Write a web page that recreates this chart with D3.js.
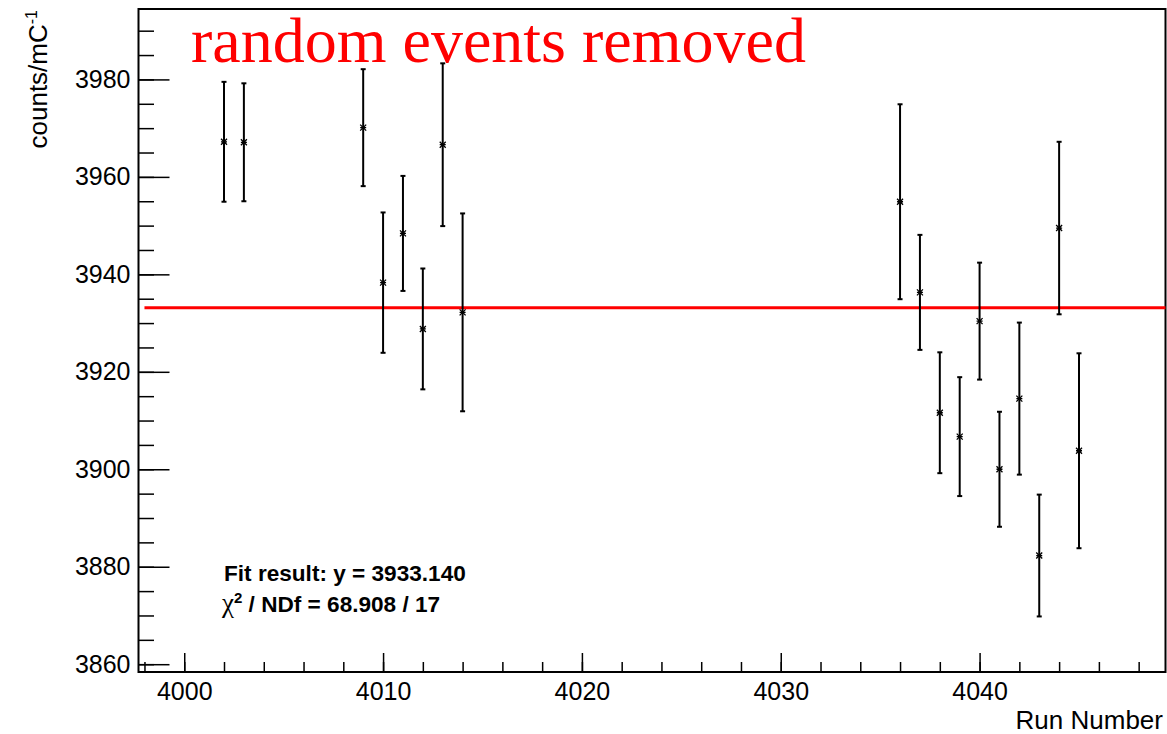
<!DOCTYPE html>
<html>
<head>
<meta charset="utf-8">
<script src="https://cdn.jsdelivr.net/npm/d3@7"></script>
<style>
    body { margin: 0; background: #fff; }
    svg { display: block; }
    .tick text { font-family: "Liberation Sans", Arial, sans-serif; font-size: 25px; fill: #000; }
</style>
</head>
<body>
<div id="chart"></div>
<script>
const width = 1167;
const height = 734;

const runs = [4002, 4003, 4009, 4010, 4011, 4012, 4013, 4014, 4036, 4037, 4038, 4039, 4040, 4041, 4042, 4043, 4044, 4045];
const counts = [3967.2, 3967.1, 3970.1, 3938.3, 3948.4, 3928.8, 3966.6, 3932.2, 3954.9, 3936.3, 3911.6, 3906.7, 3930.4, 3900.0, 3914.5, 3882.3, 3949.5, 3903.8];
const errors = [12.3, 12.1, 12.0, 14.4, 11.8, 12.4, 16.7, 20.3, 20.0, 11.8, 12.4, 12.2, 12.0, 11.8, 15.6, 12.5, 17.7, 20.0];

const xMajorTicks = [4000, 4010, 4020, 4030, 4040];
const xMinorTicks = d3.range(3998, 4050, 2);
const yMajorTicks = [3860, 3880, 3900, 3920, 3940, 3960, 3980];
const yMinorTicks = d3.range(3860, 3995, 5);

const fitValue = 3933.140;
const fitStart = 3998;
const chi2 = "68.908";
const ndf = 17;

const frame = { left: 138.5, right: 1165.5, top: 9, bottom: 672 };

const x = d3.scaleLinear()
    .domain([3997.7, 4049.35])
    .range([frame.left, frame.right]);

const y = d3.scaleLinear()
    .domain([3858.4, 3994.45])
    .range([frame.bottom, frame.top]);

const points = runs.map((run, i) => ({ run, value: counts[i], err: errors[i] }));

const svg = d3.select("#chart")
    .append("svg")
    .attr("width", width)
    .attr("height", height);

// axes, ticks pointing into the frame
svg.append("g")
    .attr("transform", `translate(0,${frame.bottom})`)
    .call(d3.axisBottom(x).tickValues(xMinorTicks).tickSize(-10).tickFormat(""))
    .call(g => g.select(".domain").remove());

svg.append("g")
    .attr("transform", `translate(0,${frame.bottom})`)
    .call(d3.axisBottom(x).tickValues(xMajorTicks).tickSize(-19).tickPadding(10).tickFormat(d3.format("d")))
    .call(g => g.select(".domain").remove());

svg.append("g")
    .attr("transform", `translate(${frame.left},0)`)
    .call(d3.axisLeft(y).tickValues(yMinorTicks).tickSize(-15.5).tickFormat(""))
    .call(g => g.select(".domain").remove());

svg.append("g")
    .attr("transform", `translate(${frame.left},0)`)
    .call(d3.axisLeft(y).tickValues(yMajorTicks).tickSize(-31).tickPadding(8).tickFormat(d3.format("d")))
    .call(g => g.select(".domain").remove());

svg.selectAll(".tick line")
    .attr("stroke", "#000")
    .attr("stroke-width", 1.5);

svg.append("rect")
    .attr("x", frame.left)
    .attr("y", frame.top)
    .attr("width", frame.right - frame.left)
    .attr("height", frame.bottom - frame.top)
    .attr("fill", "none")
    .attr("stroke", "#000")
    .attr("stroke-width", 2);

// fit line
svg.append("line")
    .attr("x1", x(fitStart))
    .attr("x2", frame.right)
    .attr("y1", y(fitValue))
    .attr("y2", y(fitValue))
    .attr("stroke", "#f00")
    .attr("stroke-width", 3);

// error bars
const bars = svg.append("g")
    .attr("stroke", "#000")
    .attr("stroke-width", 2);

bars.selectAll("line.err")
    .data(points)
    .enter()
    .append("line")
    .attr("class", "err")
    .attr("x1", d => x(d.run))
    .attr("x2", d => x(d.run))
    .attr("y1", d => y(d.value + d.err))
    .attr("y2", d => y(d.value - d.err));

bars.selectAll("line.cap")
    .data(points.flatMap(d => [d.value + d.err, d.value - d.err].map(v => ({ run: d.run, v }))))
    .enter()
    .append("line")
    .attr("class", "cap")
    .attr("x1", d => x(d.run) - 2.5)
    .attr("x2", d => x(d.run) + 2.5)
    .attr("y1", d => y(d.v))
    .attr("y2", d => y(d.v));

const markers = svg.append("g")
    .attr("stroke", "#000")
    .attr("stroke-width", 1.3);

markers.selectAll("path")
    .data(points)
    .enter()
    .append("path")
    .attr("d", d => {
        const cx = x(d.run);
        const cy = y(d.value);
        return `M${cx - 3},${cy - 3}L${cx + 3},${cy + 3}M${cx - 3},${cy + 3}L${cx + 3},${cy - 3}M${cx - 3},${cy}L${cx + 3},${cy}`;
    });

// titles
svg.append("text")
    .attr("x", 191)
    .attr("y", 61.5)
    .attr("font-family", "'Liberation Serif', 'Times New Roman', serif")
    .attr("font-size", 64)
    .attr("fill", "#f00")
    .text("random events removed");

svg.append("text")
    .attr("x", 1163)
    .attr("y", 728.5)
    .attr("text-anchor", "end")
    .attr("font-family", "'Liberation Sans', Arial, sans-serif")
    .attr("font-size", 26)
    .text("Run Number");

const yLabel = svg.append("text")
    .attr("transform", "rotate(-90)")
    .attr("x", -10)
    .attr("y", 47)
    .attr("text-anchor", "end")
    .attr("font-family", "'Liberation Sans', Arial, sans-serif")
    .attr("font-size", 26);

yLabel.append("tspan").text("counts/mC");
yLabel.append("tspan")
    .attr("font-size", 16)
    .attr("dy", -10)
    .text("-1");

// fit summary
svg.append("text")
    .attr("x", 224)
    .attr("y", 581)
    .attr("font-family", "'Liberation Sans', Arial, sans-serif")
    .attr("font-weight", "bold")
    .attr("font-size", 22.6)
    .text(`Fit result: y = ${fitValue.toFixed(3)}`);

const chiText = svg.append("text")
    .attr("x", 222)
    .attr("y", 612)
    .attr("font-family", "'Liberation Sans', Arial, sans-serif")
    .attr("font-weight", "bold")
    .attr("font-size", 22.6);

chiText.append("tspan")
    .attr("font-family", "'Liberation Serif', 'Times New Roman', serif")
    .attr("font-weight", "normal")
    .attr("font-size", 27)
    .text("χ");
chiText.append("tspan")
    .attr("font-size", 15)
    .attr("dy", -9)
    .text("2");
chiText.append("tspan")
    .attr("dy", 9)
    .text(` / NDf = ${chi2} / ${ndf}`);
</script>
</body>
</html>
